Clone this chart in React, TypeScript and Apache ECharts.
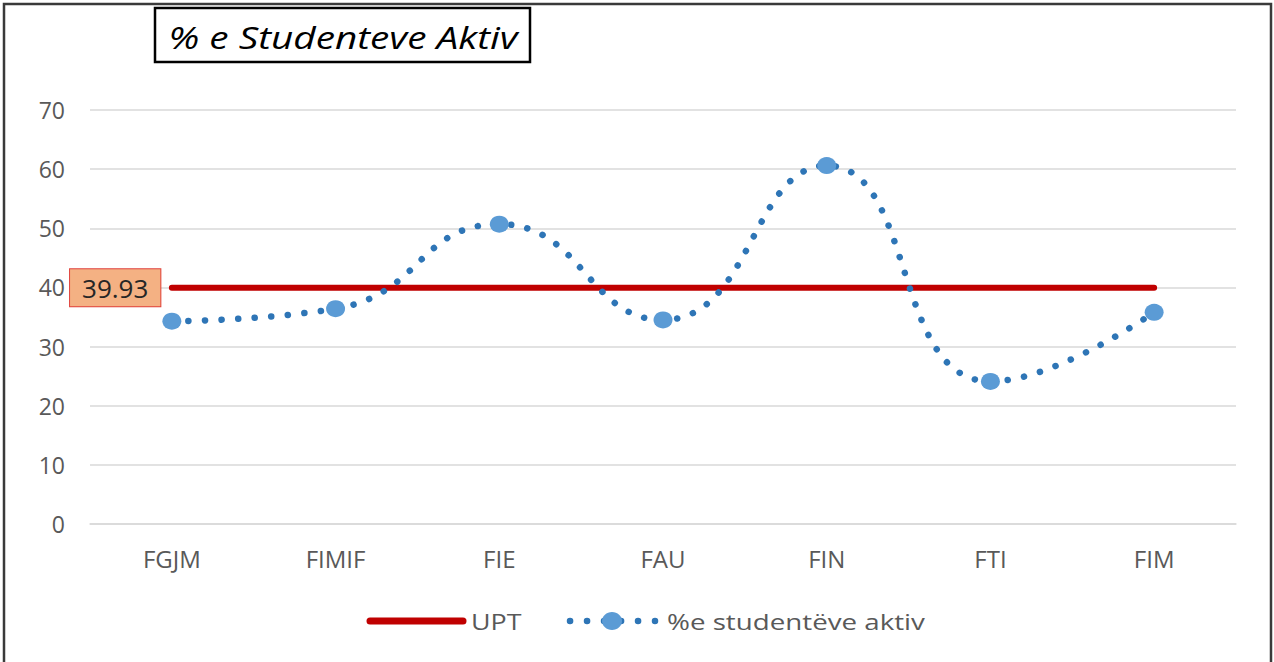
import React, { useEffect, useRef } from "react";
import * as echarts from "echarts";

const categories = ["FGJM", "FIMIF", "FIE", "FAU", "FIN", "FTI", "FIM"];
const activeStudents = [34.3, 36.4, 50.7, 34.5, 60.6, 24.1, 35.8];
const uptValue = 39.93;
const uptValues = categories.map(() => uptValue);
const yTicks = [0, 10, 20, 30, 40, 50, 60, 70];
const seriesNames = ["UPT", "%e studentëve aktiv"];
const titleText = "% e Studenteve Aktiv";

export default function App() {
  const ref = useRef<HTMLDivElement>(null);
  useEffect(() => {
    document.body.style.margin = "0";
    const chart = echarts.init(ref.current!, null, { renderer: "svg" });
    const font = "'Open Sans', 'Noto Sans', sans-serif";
    chart.setOption({
      animation: false,
      backgroundColor: "#ffffff",
      textStyle: { fontFamily: font },
      grid: { left: 90, right: 38, top: 110, bottom: 138 },
      xAxis: {
        type: "category",
        data: categories,
        boundaryGap: true,
        axisLine: { show: true, lineStyle: { color: "#D9D9D9", width: 1.5 } },
        axisTick: { show: false },
        axisLabel: { color: "#595959", fontSize: 24, margin: 22, fontFamily: font },
      },
      yAxis: {
        type: "value",
        min: yTicks[0],
        max: yTicks[yTicks.length - 1],
        interval: 10,
        axisLine: { show: false },
        axisTick: { show: false },
        axisLabel: { color: "#595959", fontSize: 23, margin: 25, fontFamily: font },
        splitLine: { lineStyle: { color: "#D9D9D9", width: 1.5 } },
      },
      legend: { show: false },
      series: [
        {
          name: seriesNames[0],
          type: "line",
          data: uptValues,
          symbol: "none",
          lineStyle: { color: "#C00000", width: 6, cap: "round" },
          itemStyle: { color: "#C00000" },
          z: 2,
          emphasis: { disabled: true },
          markPoint: {
            symbol: "circle",
            symbolSize: 1,
            itemStyle: { color: "rgba(0,0,0,0)" },
            silent: true,
            data: [{ coord: [0, uptValue], value: uptValue }],
            label: {
              show: true,
              position: "left",
              distance: 11,
              formatter: () => uptValue.toFixed(2),
              color: "#262626",
              fontSize: 26,
              fontFamily: font,
              backgroundColor: "#F4B183",
              borderColor: "#E0403A",
              borderWidth: 1,
              padding: [6, 12, 5, 12],
            },
          },
        },
        {
          name: seriesNames[1],
          type: "line",
          data: activeStudents,
          smooth: 0.5,
          symbol: "circle",
          symbolSize: [19, 17],
          showSymbol: true,
          itemStyle: { color: "#5B9BD5" },
          lineStyle: { color: "#2E75B6", width: 6.5, type: [0.1, 16.5], cap: "round" },
          z: 3,
          emphasis: { disabled: true },
        },
      ],
      graphic: [
        {
          type: "rect",
          shape: { x: 4, y: 4, width: 1267, height: 680 },
          style: { fill: "none", stroke: "#3a3a3a", lineWidth: 2.5 },
          silent: true,
        },
        {
          type: "rect",
          shape: { x: 155, y: 8, width: 375, height: 54 },
          style: { fill: "#ffffff", stroke: "#000000", lineWidth: 2.5 },
          silent: true,
        },
        {
          type: "text",
          x: 343,
          y: 37,
          scaleX: 1.25,
          style: {
            text: titleText,
            fill: "#000000",
            fontSize: 31,
            fontStyle: "italic",
            fontFamily: font,
            align: "center",
            verticalAlign: "middle",
          },
          silent: true,
        },
        {
          type: "line",
          shape: { x1: 370, y1: 621, x2: 463, y2: 621 },
          style: { stroke: "#C00000", lineWidth: 7, lineCap: "round" },
          silent: true,
        },
        {
          type: "text",
          x: 471,
          y: 621,
          scaleX: 1.22,
          style: {
            text: seriesNames[0],
            fill: "#595959",
            fontSize: 22,
            fontFamily: font,
            align: "left",
            verticalAlign: "middle",
          },
          silent: true,
        },
        {
          type: "line",
          shape: { x1: 570, y1: 621, x2: 655, y2: 621 },
          style: { stroke: "#2E75B6", lineWidth: 6.5, lineCap: "round", lineDash: [0.1, 16.9] },
          silent: true,
        },
        {
          type: "ellipse",
          shape: { cx: 612, cy: 621, rx: 10, ry: 9 },
          style: { fill: "#5B9BD5" },
          silent: true,
        },
        {
          type: "text",
          x: 667,
          y: 621,
          scaleX: 1.26,
          style: {
            text: seriesNames[1],
            fill: "#595959",
            fontSize: 22,
            fontFamily: font,
            align: "left",
            verticalAlign: "middle",
          },
          silent: true,
        },
      ],
    });
    return () => chart.dispose();
  }, []);
  return (
    <div
      ref={ref}
      style={{ position: "fixed", left: 0, top: 0, width: 1274, height: 662 }}
    />
  );
}
